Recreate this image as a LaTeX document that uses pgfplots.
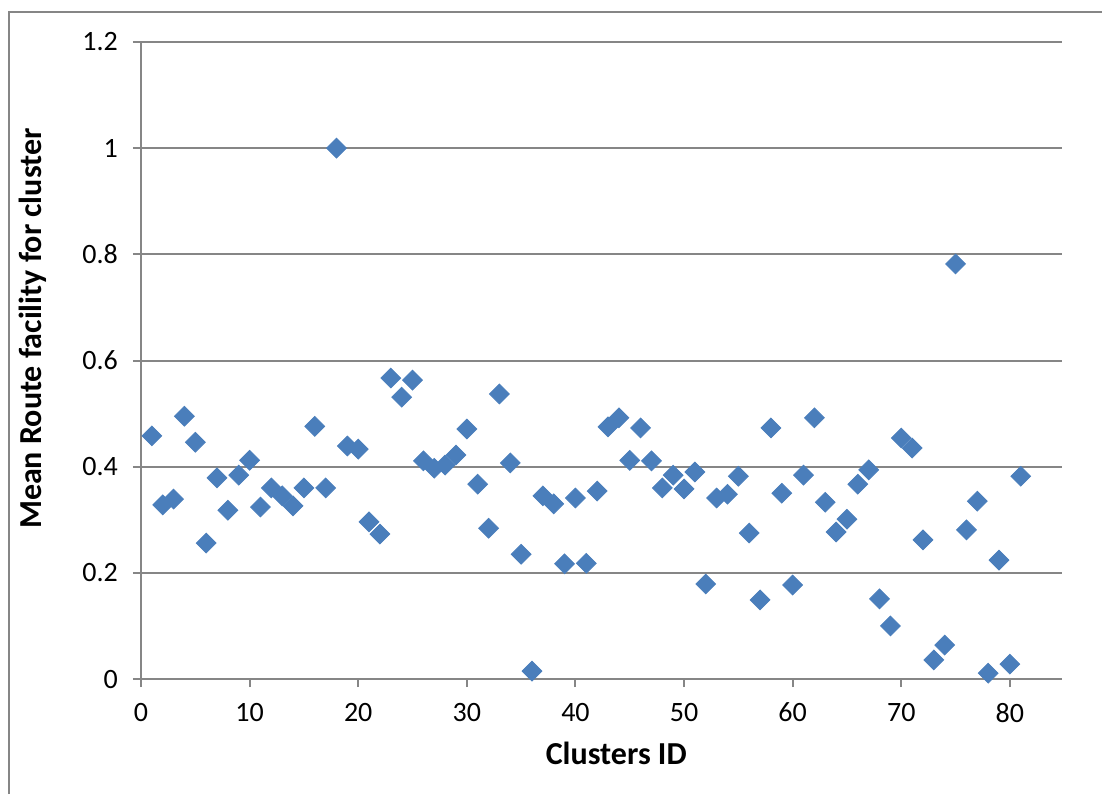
\documentclass[border=0pt]{standalone}
\usepackage{pgfplots}
\pgfplotsset{compat=1.18}
\usepackage{fontspec}
\setmainfont{Carlito}
\definecolor{markblue}{RGB}{74,126,187}
\definecolor{gridgray}{RGB}{134,134,134}
\begin{document}
\begin{tikzpicture}
\path[use as bounding box] (-70.5pt,-57.5pt) rectangle (480.5pt,339.5pt);
\draw[gridgray, line width=0.8pt] (-66pt,-57.5pt) -- (-66pt,333.5pt) -- (480.5pt,333.5pt);
\begin{axis}[
  scale only axis,
  width=460.5pt, height=318.5pt,
  xmin=0, xmax=84.8, ymin=0, ymax=1.2,
  xtick={0,10,...,80},
  ytick={0,0.2,...,1.2},
  axis x line*=bottom, axis y line*=left,
  axis line style={gridgray, line width=1pt, -},
  ymajorgrids,
  grid style={gridgray, line width=1pt},
  tick style={gridgray, line width=1pt},
  major tick length=4pt,
  tick align=outside,
  /pgf/number format/assume math mode=true,
  ticklabel style={font=\fontsize{14pt}{16pt}\selectfont, black},
  yticklabel style={xshift=-4pt},
  xticklabel style={yshift=-4.5pt},
  xlabel={\textbf{Clusters ID}},
  ylabel={\textbf{Mean Route facility for cluster}},
  label style={font=\fontsize{16pt}{18pt}\selectfont},
  xlabel style={at={(axis description cs:0.516,0)}, anchor=center, yshift=-37pt},
  ylabel style={at={(axis description cs:0,0.55)}, anchor=center, xshift=0pt, yshift=54pt},
  clip=false,
]
\addplot[only marks, mark=square*, mark size=3.5pt,
  mark options={rotate=45, fill=markblue, draw=markblue}]
coordinates {
(1,0.458) (2,0.328) (3,0.339) (4,0.495) (5,0.446) (6,0.256) (7,0.379) (8,0.318) (9,0.384) (10,0.412)
(11,0.324) (12,0.360) (13,0.345) (14,0.326) (15,0.360) (16,0.476) (17,0.360) (18,1.000) (19,0.439) (20,0.433)
(21,0.296) (22,0.273) (23,0.567) (24,0.531) (25,0.563) (26,0.411) (27,0.397) (28,0.403) (29,0.422) (30,0.471)
(31,0.367) (32,0.284) (33,0.537) (34,0.407) (35,0.235) (36,0.015) (37,0.345) (38,0.330) (39,0.217) (40,0.341)
(41,0.218) (42,0.354) (43,0.475) (44,0.492) (45,0.412) (46,0.473) (47,0.411) (48,0.360) (49,0.384) (50,0.358)
(51,0.390) (52,0.179) (53,0.341) (54,0.348) (55,0.382) (56,0.275) (57,0.149) (58,0.473) (59,0.350) (60,0.177)
(61,0.384) (62,0.492) (63,0.333) (64,0.277) (65,0.301) (66,0.367) (67,0.394) (68,0.151) (69,0.100) (70,0.454)
(71,0.435) (72,0.262) (73,0.036) (74,0.064) (75,0.782) (76,0.281) (77,0.335) (78,0.011) (79,0.224) (80,0.028)
(81,0.382)
};
\end{axis}
\end{tikzpicture}
\end{document}
